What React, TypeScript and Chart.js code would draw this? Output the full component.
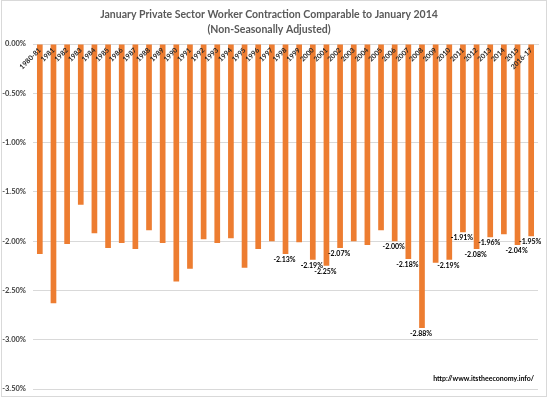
import React, { useEffect, useRef } from 'react';
import { Chart, registerables } from 'chart.js';

Chart.register(...registerables);

const titleLines = [
  'January Private Sector Worker Contraction Comparable to January 2014',
  '(Non-Seasonally Adjusted)',
];

const categories = [
  '1980-81', '1981', '1982', '1983', '1984', '1985', '1986', '1987', '1988', '1989',
  '1990', '1991', '1992', '1993', '1994', '1995', '1996', '1997', '1998', '1999',
  '2000', '2001', '2002', '2003', '2004', '2005', '2006', '2007', '2008', '2009',
  '2010', '2011', '2012', '2013', '2014', '2015', '2016-17',
];

const values = [
  -2.13, -2.63, -2.03, -1.63, -1.92, -2.07, -2.02, -2.08, -1.89, -2.02,
  -2.41, -2.28, -1.98, -2.02, -1.97, -2.27, -2.08, -2.0, -2.13, -2.01,
  -2.19, -2.25, -2.07, -2.0, -2.04, -1.89, -2.0, -2.18, -2.88, -2.22,
  -2.19, -1.91, -2.08, -1.96, -1.93, -2.04, -1.95,
];

const labeledCategories = [
  '1998', '2000', '2001', '2002', '2006', '2007', '2008', '2010', '2011', '2012', '2013', '2015', '2016-17',
];

const yMin = -3.5;
const yMax = 0;
const yStep = 0.5;

const sourceText = 'http://www.itstheeconomy.info/';

const FONT = 'Lato, "Open Sans", "DejaVu Sans", sans-serif';
const BAR_COLOR = '#ED7D31';
const GRID_COLOR = '#d9d9d9';

const valueLabelPlugin = {
  id: 'valueLabelPlugin',
  afterDatasetsDraw(chart: any) {
    const meta = chart.getDatasetMeta(0);
    const ctx = chart.ctx;
    ctx.save();
    ctx.font = `bold 7px ${FONT}`;
    ctx.fillStyle = '#000000';
    ctx.textAlign = 'center';
    ctx.textBaseline = 'top';
    meta.data.forEach((bar: any, i: number) => {
      if (!labeledCategories.includes(categories[i])) return;
      ctx.fillText(values[i].toFixed(2) + '%', bar.x - 1, bar.y + 2);
    });
    ctx.restore();
  },
};

const framePlugin = {
  id: 'framePlugin',
  beforeDraw(chart: any) {
    const ctx = chart.ctx;
    ctx.save();
    ctx.fillStyle = '#ffffff';
    ctx.fillRect(0, 0, chart.width, chart.height);
    ctx.restore();
  },
  afterDraw(chart: any) {
    const ctx = chart.ctx;
    ctx.save();
    ctx.strokeStyle = '#d9d9d9';
    ctx.lineWidth = 1;
    ctx.strokeRect(1.5, 0.5, chart.width - 3, chart.height - 2);
    ctx.font = `bold 7px ${FONT}`;
    ctx.fillStyle = '#000000';
    ctx.textAlign = 'right';
    ctx.textBaseline = 'middle';
    ctx.fillText(sourceText, chart.chartArea.right - 4, 379);
    ctx.restore();
  },
};

export default function App() {
  const canvasRef = useRef<HTMLCanvasElement | null>(null);

  useEffect(() => {
    document.body.style.margin = '0';
    const canvas = canvasRef.current;
    if (!canvas) return;
    const chart = new Chart(canvas, {
      type: 'bar',
      data: {
        labels: categories,
        datasets: [
          {
            data: values,
            backgroundColor: BAR_COLOR,
            borderWidth: 0,
            barPercentage: 1 / 2.4,
            categoryPercentage: 1,
          },
        ],
      },
      options: {
        responsive: false,
        animation: false,
        devicePixelRatio: 1,
        layout: { padding: { left: 0, right: 10, top: 0, bottom: 9 } },
        plugins: {
          legend: { display: false },
          tooltip: { enabled: false },
          title: {
            display: true,
            text: titleLines,
            color: '#595959',
            font: { family: FONT, size: 10.5, weight: 'bold', lineHeight: 1.35 },
            padding: { top: 8, bottom: 7.65 },
          },
        },
        scales: {
          x: {
            position: { y: 0 } as any,
            grid: { display: false, drawTicks: false },
            border: { display: true, color: GRID_COLOR },
            ticks: {
              z: 1,
              autoSkip: false,
              minRotation: 45,
              maxRotation: 45,
              padding: 2,
              color: '#262626',
              font: { family: FONT, size: 7, weight: 'bold' },
            },
          },
          y: {
            min: yMin,
            max: yMax,
            afterFit: (scale: any) => {
              scale.width = 33;
              scale.paddingTop = 0;
              scale.paddingBottom = 0;
            },
            grid: { color: GRID_COLOR, drawTicks: false },
            border: { display: false },
            ticks: {
              stepSize: yStep,
              padding: 7,
              color: '#404040',
              font: { family: FONT, size: 7.5, weight: 'bold' },
              callback: (v: any) => Number(v).toFixed(2) + '%',
            },
          },
        },
      },
      plugins: [valueLabelPlugin, framePlugin],
    });
    return () => chart.destroy();
  }, []);

  return (
    <div style={{ width: 548, height: 398, background: '#ffffff' }}>
      <canvas ref={canvasRef} width={548} height={398} style={{ display: 'block' }} />
    </div>
  );
}
